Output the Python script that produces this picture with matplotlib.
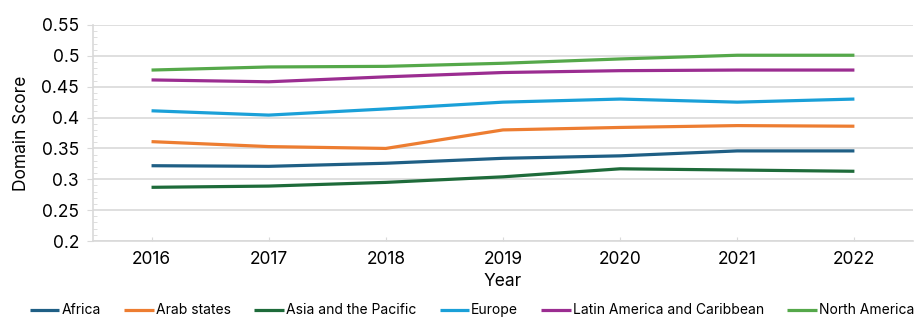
import numpy as np
import matplotlib
matplotlib.use('Agg')
from matplotlib import pyplot
from matplotlib.ticker import MultipleLocator


#(0) Data:
YEARS   = ['2016', '2017', '2018', '2019', '2020', '2021', '2022']
REGIONS = ['Africa', 'Arab states', 'Asia and the Pacific', 'Europe',
           'Latin America and Caribbean', 'North America']
africa   = [0.322, 0.321, 0.326, 0.334, 0.338, 0.346, 0.346]
arab     = [0.361, 0.353, 0.350, 0.380, 0.384, 0.387, 0.386]
asia     = [0.287, 0.289, 0.295, 0.304, 0.317, 0.315, 0.313]
europe   = [0.411, 0.404, 0.414, 0.425, 0.430, 0.425, 0.430]
latam    = [0.461, 0.458, 0.466, 0.473, 0.476, 0.477, 0.477]
namerica = [0.477, 0.482, 0.483, 0.488, 0.495, 0.501, 0.501]
SERIES   = [africa, arab, asia, europe, latam, namerica]
COLORS   = ['#1f5f85', '#ed7d31', '#1e6b3a', '#1aa0d8', '#9b2d91', '#55a84a']


#(1) Plot
pyplot.rcParams['font.family'] = ['Inter', 'DejaVu Sans']
grey = '#d9d9d9'

fig = pyplot.figure(figsize=(9.15, 3.18), dpi=100)
ax  = fig.add_axes([0.1016, 0.2421, 0.8962, 0.6793])

x = np.arange(len(YEARS))
for yy, c, lab in zip(SERIES, COLORS, REGIONS):
	ax.plot(x, yy, color=c, lw=2.3, label=lab, solid_capstyle='butt')

ax.set_xlim(-0.5, len(YEARS) - 0.5)
ax.set_ylim(0.2, 0.55)
ax.set_xticks(x)
ax.set_xticklabels(YEARS)
ax.yaxis.set_major_locator(MultipleLocator(0.05))
ax.yaxis.set_minor_locator(MultipleLocator(0.01))
ax.set_yticklabels(['%g' % v for v in ax.get_yticks()])
ax.grid(axis='y', color=grey, lw=1.2)
ax.set_axisbelow(True)

for s in ['top', 'right']:
	ax.spines[s].set_visible(False)
for s in ['left', 'bottom']:
	ax.spines[s].set_color(grey)
	ax.spines[s].set_linewidth(1.2)

ax.tick_params(axis='y', which='major', direction='out', length=4, color=grey, labelsize=12.5, pad=6)
ax.tick_params(axis='y', which='minor', direction='in', length=3, color=grey)
ax.tick_params(axis='x', which='major', direction='in', length=3, color=grey, labelsize=12.5, pad=7)

ax.set_xlabel('Year', size=12.5, labelpad=4)
ax.set_ylabel('Domain Score', size=12.5, labelpad=8)

leg = fig.legend(loc='center', bbox_to_anchor=(0.516, 0.024), ncol=6, frameon=False,
                 fontsize=10, handlelength=2.1, handletextpad=0.15, columnspacing=1.7,
                 borderaxespad=0)
for h in leg.get_lines():
	h.set_linewidth(2.3)

pyplot.savefig('out.png', dpi=100)
